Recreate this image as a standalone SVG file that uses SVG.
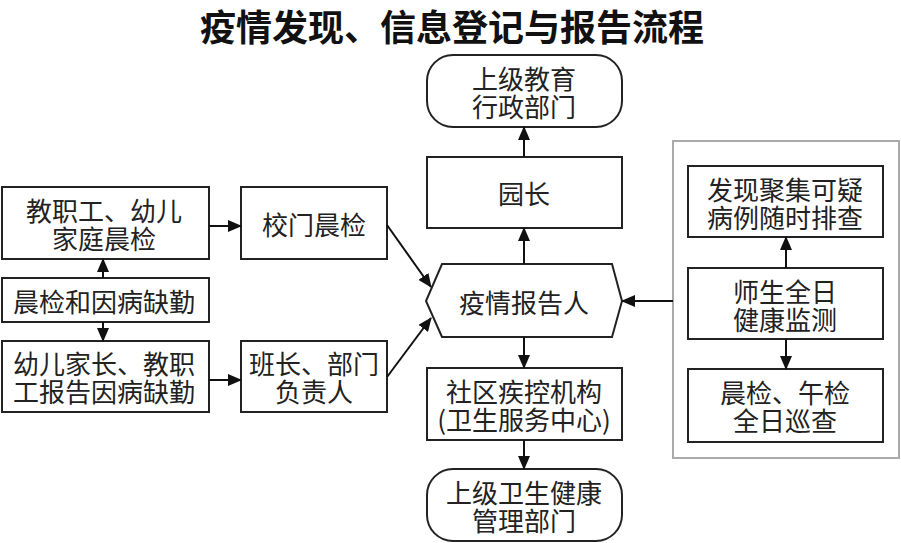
<svg xmlns="http://www.w3.org/2000/svg" width="901" height="543" viewBox="0 0 901 543">
<style>
.box{fill:#fff;stroke:#222;stroke-width:2}
.grp{fill:none;stroke:#aaa;stroke-width:2}
.t{font-family:"Noto Sans CJK SC","Liberation Sans",sans-serif;font-size:26px;fill:#222;text-anchor:middle;dominant-baseline:central}
.title{font-family:"Noto Sans CJK SC","Liberation Sans",sans-serif;font-size:36px;font-weight:bold;fill:#111;text-anchor:middle;dominant-baseline:central}
.e{fill:none;stroke:#111;stroke-width:2;marker-end:url(#ah)}
</style>
<defs>
<marker id="ah" markerUnits="userSpaceOnUse" markerWidth="14" markerHeight="12" refX="13" refY="6" orient="auto">
<path d="M0,0 L14,6 L0,12 Z" fill="#111"/>
</marker>
</defs>
<rect width="901" height="543" fill="#fff"/>
<text class="title" x="452" y="25">疫情发现、信息登记与报告流程</text>

<g id="group-right"><rect class="grp" x="673" y="141" width="226" height="317"/></g>

<g id="n-jzg"><rect class="box" x="2" y="187" width="207" height="72"/><text class="t" x="104" y="209">教职工、幼儿</text><text class="t" x="104" y="237">家庭晨检</text></g>
<g id="n-xmcj"><rect class="box" x="241" y="187" width="146" height="72"/><text class="t" x="314" y="223">校门晨检</text></g>
<g id="n-cjhy"><rect class="box" x="2" y="278" width="207" height="44"/><text class="t" x="104" y="300">晨检和因病缺勤</text></g>
<g id="n-yejz"><rect class="box" x="2" y="341" width="207" height="71"/><text class="t" x="104" y="362">幼儿家长、教职</text><text class="t" x="104" y="390">工报告因病缺勤</text></g>
<g id="n-bz"><rect class="box" x="241" y="341" width="146" height="71"/><text class="t" x="314" y="362">班长、部门</text><text class="t" x="314" y="390">负责人</text></g>

<g id="n-sjjy"><rect class="box" x="427" y="55" width="195" height="72" rx="26" ry="26"/><text class="t" x="524" y="77">上级教育</text><text class="t" x="524" y="105">行政部门</text></g>
<g id="n-yz"><rect class="box" x="427" y="157" width="195" height="71"/><text class="t" x="524" y="192">园长</text></g>
<g id="n-yqbgr"><polygon class="box" points="442,264 612,264 622,301 612,337 442,337 426,301"/><text class="t" x="524" y="301">疫情报告人</text></g>
<g id="n-sqjk"><rect class="box" x="427" y="368" width="195" height="72"/><text class="t" x="524" y="390">社区疾控机构</text><text class="t" x="524" y="418">(卫生服务中心)</text></g>
<g id="n-sjws"><rect class="box" x="427" y="469" width="195" height="72" rx="26" ry="26"/><text class="t" x="524" y="491">上级卫生健康</text><text class="t" x="524" y="519">管理部门</text></g>

<g id="n-fxjj"><rect class="box" x="688" y="166" width="195" height="71"/><text class="t" x="785" y="188">发现聚集可疑</text><text class="t" x="785" y="216">病例随时排查</text></g>
<g id="n-sssq"><rect class="box" x="688" y="268" width="195" height="71"/><text class="t" x="785" y="290">师生全日</text><text class="t" x="785" y="318">健康监测</text></g>
<g id="n-cjwj"><rect class="box" x="688" y="369" width="195" height="73"/><text class="t" x="785" y="391">晨检、午检</text><text class="t" x="785" y="419">全日巡查</text></g>

<g id="connectors">
<line class="e" x1="209" y1="226" x2="241" y2="226"/>
<line class="e" x1="103" y1="278" x2="103" y2="259"/>
<line class="e" x1="103" y1="322" x2="103" y2="341"/>
<line class="e" x1="209" y1="380" x2="241" y2="380"/>
<line class="e" x1="387" y1="225" x2="431" y2="287"/>
<line class="e" x1="387" y1="377" x2="431" y2="318"/>
<line class="e" x1="524" y1="264" x2="524" y2="228"/>
<line class="e" x1="524" y1="157" x2="524" y2="127"/>
<line class="e" x1="524" y1="337" x2="524" y2="368"/>
<line class="e" x1="524" y1="440" x2="524" y2="469"/>
<line class="e" x1="673" y1="301" x2="622" y2="301"/>
<line class="e" x1="786" y1="268" x2="786" y2="237"/>
<line class="e" x1="786" y1="339" x2="786" y2="369"/>
</g>
</svg>
